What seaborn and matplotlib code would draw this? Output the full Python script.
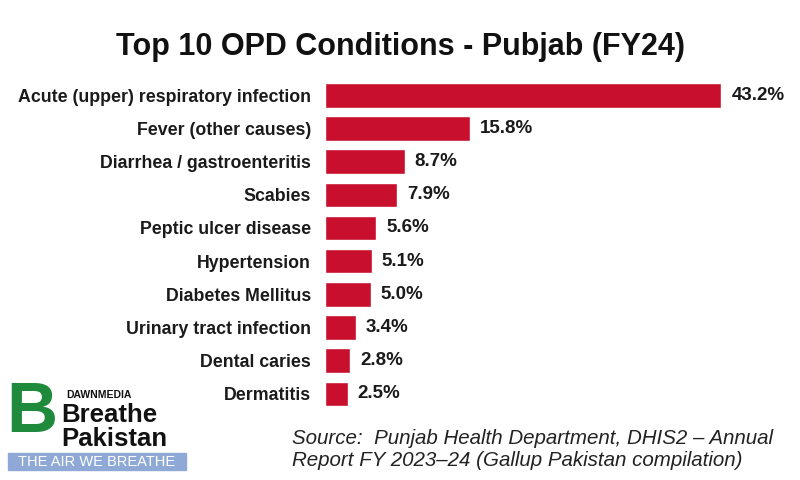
import matplotlib
matplotlib.use("Agg")
import matplotlib.pyplot as plt
import seaborn as sns
import pandas as pd
from matplotlib.patches import Rectangle

# chart data
conditions = ["Acute (upper) respiratory infection", "Fever (other causes)",
              "Diarrhea / gastroenteritis", "Scabies", "Peptic ulcer disease",
              "Hypertension", "Diabetes Mellitus", "Urinary tract infection",
              "Dental caries", "Dermatitis"]
shares = [43.2, 15.8, 8.7, 7.9, 5.6, 5.1, 5.0, 3.4, 2.8, 2.5]

df = pd.DataFrame({"condition": conditions, "share": shares})

sns.set_style("white")
plt.rcParams["font.family"] = ["Liberation Sans", "DejaVu Sans"]

fig = plt.figure(figsize=(8, 4.8), dpi=100)
fig.patch.set_facecolor("white")
ax = fig.add_axes([0.406, 0.145, 0.585, 0.691])

sns.barplot(data=df, x="share", y="condition", color="#c8102e",
            saturation=1, width=0.74, ax=ax, orient="h")
ax.set_xlim(0, 51)
ax.set_xlabel("")
ax.set_ylabel("")
ax.set_xticks([])
ax.tick_params(axis="y", length=0, pad=10)
for lbl in ax.get_yticklabels():
    lbl.set_fontweight("bold")
    lbl.set_fontsize(12.8)
    lbl.set_color("#1a1a1a")
sns.despine(ax=ax, left=True, bottom=True)

for i, v in enumerate(shares):
    ax.text(v + 1.1, i, f"{v:.1f}%", va="center", ha="left",
            fontsize=13.5, fontweight="bold", color="#1a1a1a")

fig.text(0.5, 0.902, "Top 10 OPD Conditions - Pubjab (FY24)", ha="center",
         va="center", fontsize=22, fontweight="bold", color="#111111")

fig.text(0.365, 0.064, "Source:  Punjab Health Department, DHIS2 \u2013 Annual\n"
         "Report FY 2023\u201324 (Gallup Pakistan compilation)",
         ha="left", va="center", fontsize=14.8, style="italic", color="#222222",
         linespacing=1.2)

# logo
green = "#1f8a3c"
fig.text(0.008, 0.137, "B", ha="left", va="center", fontsize=51,
         fontweight="bold", color=green)
fig.text(0.083, 0.178, "DAWNMEDIA", ha="left", va="center", fontsize=7.5,
         fontweight="bold", color="#111111")
fig.text(0.076, 0.136, "Breathe", ha="left", va="center", fontsize=18.5,
         fontweight="bold", color="#111111")
fig.text(0.076, 0.085, "Pakistan", ha="left", va="center", fontsize=18.5,
         fontweight="bold", color="#111111")
fig.patches.append(Rectangle((0.010, 0.021), 0.222, 0.035,
                             transform=fig.transFigure, color="#8fa9d6"))
fig.text(0.121, 0.038, "THE AIR WE BREATHE", ha="center", va="center",
         fontsize=10.5, color="white")

fig.savefig("out.png", dpi=100, facecolor="white")
